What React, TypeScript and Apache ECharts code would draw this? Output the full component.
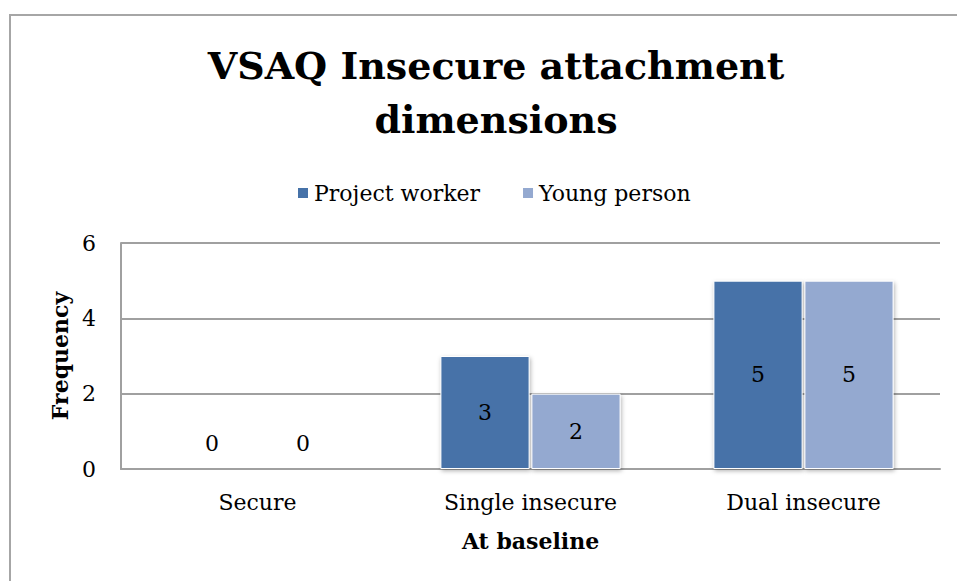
import React, { useEffect, useRef } from "react";
import * as echarts from "echarts";

const categories = ["Secure", "Single insecure", "Dual insecure"];
const projectWorker = [0, 3, 5];
const youngPerson = [0, 2, 5];
const seriesNames = ["Project worker", "Young person"];
const colors = ["#4672A8", "#94A9D0"];

const FONT = "'DejaVu Serif', 'Liberation Serif', serif";

function toData(values: number[]) {
  return values.map((v) => ({
    value: v,
    label:
      v === 0
        ? { show: true, position: "top", distance: 14 }
        : { show: true, position: "inside" },
  }));
}

export default function App() {
  const ref = useRef<HTMLDivElement>(null);
  useEffect(() => {
    if (!ref.current) return;
    const chart = echarts.init(ref.current, null, { renderer: "svg" });
    const barBase = {
      type: "bar",
      barCategoryGap: "34%",
      barGap: "2%",
      label: { color: "#000", fontFamily: FONT, fontSize: 22 },
      itemStyle: {
        borderColor: "#ffffff",
        borderWidth: 1,
        shadowBlur: 4,
        shadowOffsetX: 1,
        shadowOffsetY: 2,
        shadowColor: "rgba(0,0,0,0.3)",
      },
    };
    chart.setOption({
      animation: false,
      backgroundColor: "#ffffff",
      graphic: [
        {
          type: "rect",
          shape: { x: 10, y: 15, width: 1000, height: 700 },
          style: { fill: "none", stroke: "#a6a6a6", lineWidth: 2 },
          silent: true,
        },
      ],
      title: {
        text: "VSAQ Insecure attachment\ndimensions",
        left: 491,
        textAlign: "center",
        top: 33,
        textStyle: {
          fontFamily: FONT,
          fontWeight: "bold",
          fontSize: 38,
          lineHeight: 54,
          color: "#000",
        },
      },
      legend: {
        top: 177,
        left: 291,
        itemWidth: 12,
        itemHeight: 12,
        itemGap: 41,
        icon: "rect",
        data: seriesNames,
        textStyle: { fontFamily: FONT, fontSize: 22, color: "#000" },
      },
      grid: { left: 121, right: 17, top: 243, bottom: 112 },
      xAxis: {
        type: "category",
        data: categories,
        name: "At baseline",
        nameLocation: "middle",
        nameGap: 61,
        nameTextStyle: {
          fontFamily: FONT,
          fontWeight: "bold",
          fontSize: 22,
          color: "#000",
        },
        axisLine: { lineStyle: { color: "#a0a0a0", width: 2 } },
        axisTick: { show: false },
        axisLabel: {
          fontFamily: FONT,
          fontSize: 22,
          color: "#000",
          margin: 22,
        },
      },
      yAxis: {
        type: "value",
        min: 0,
        max: 6,
        interval: 2,
        name: "Frequency",
        nameLocation: "middle",
        nameGap: 49,
        nameRotate: 90,
        nameTextStyle: {
          fontFamily: FONT,
          fontWeight: "bold",
          fontSize: 22,
          color: "#000",
        },
        axisLine: { show: true, lineStyle: { color: "#a0a0a0", width: 2 } },
        axisTick: { show: false },
        splitLine: { lineStyle: { color: "#a0a0a0", width: 2 } },
        axisLabel: {
          fontFamily: FONT,
          fontSize: 22,
          color: "#000",
          margin: 25,
        },
      },
      series: [
        {
          ...barBase,
          name: seriesNames[0],
          data: toData(projectWorker),
          itemStyle: { ...barBase.itemStyle, color: colors[0] },
        },
        {
          ...barBase,
          name: seriesNames[1],
          data: toData(youngPerson),
          itemStyle: { ...barBase.itemStyle, color: colors[1] },
        },
      ],
    });
    return () => chart.dispose();
  }, []);
  return (
    <div
      ref={ref}
      style={{ position: "fixed", left: 0, top: 0, width: 957, height: 581 }}
    />
  );
}
